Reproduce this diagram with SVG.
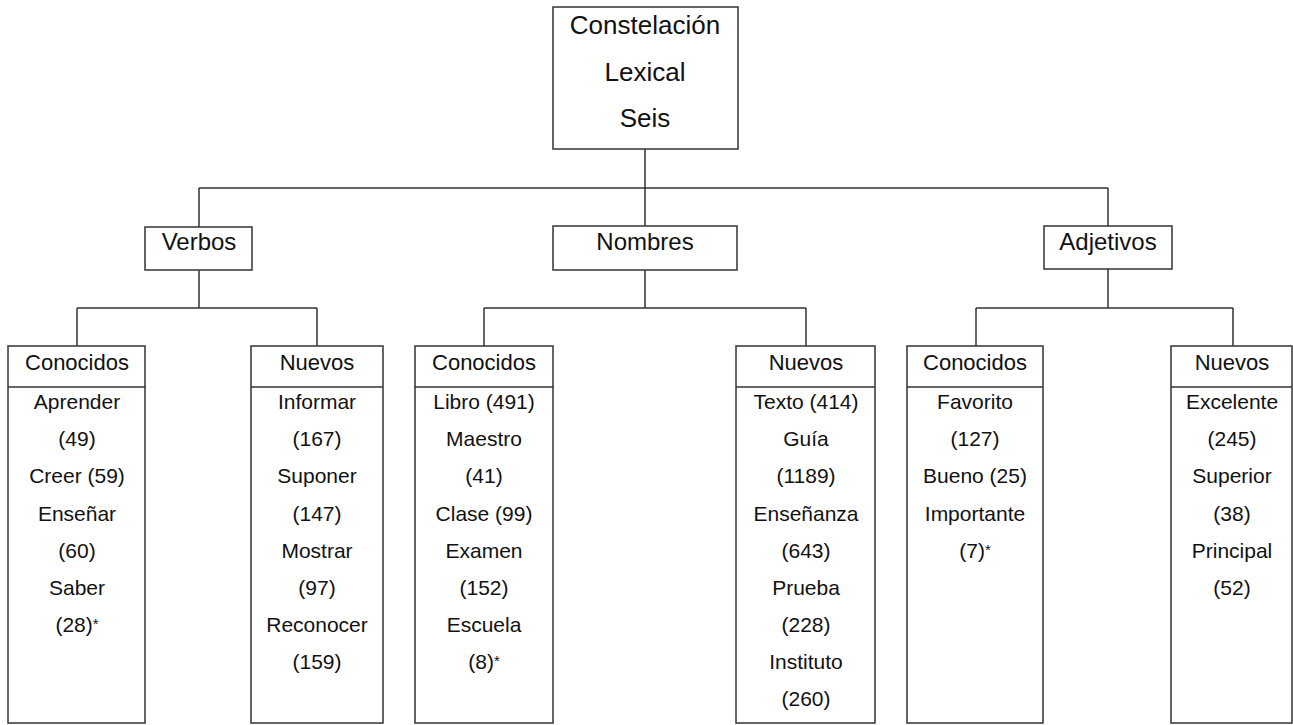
<svg xmlns="http://www.w3.org/2000/svg" width="1293" height="725" viewBox="0 0 1293 725">
  <style>
    .box { fill: #ffffff; stroke: #333333; stroke-width: 1.5; }
    .link { fill: none; stroke: #333333; stroke-width: 1.5; }
    text { font-family: "Liberation Sans", Arial, sans-serif; fill: #111111; text-anchor: middle; }
    .title { font-size: 26px; }
    .cat { font-size: 24px; }
    .head { font-size: 22px; }
    .item { font-size: 21px; }
    .star { font-size: 15px; }
  </style>
  <rect width="1293" height="725" fill="#ffffff"/>

  <!-- connectors -->
  <g id="connectors">
    <path class="link" d="M645 149 V188 M199 188 H1108 M199 188 V227 M645 188 V226 M1108 188 V226"/>
    <path class="link" d="M199 270 V308 M77 308 H317 M77 308 V346 M317 308 V346"/>
    <path class="link" d="M645 270 V308 M484 308 H806 M484 308 V346 M806 308 V346"/>
    <path class="link" d="M1108 269 V308 M976 308 H1233 M976 308 V346 M1233 308 V346"/>
  </g>

  <!-- root -->
  <g id="root">
    <rect class="box" x="553" y="7" width="185" height="142"/>
    <text class="title" x="645" y="34">Constelación</text>
    <text class="title" x="645" y="81">Lexical</text>
    <text class="title" x="645" y="127">Seis</text>
  </g>

  <!-- categories -->
  <g id="verbos">
    <rect class="box" x="145" y="227" width="107" height="43"/>
    <text class="cat" x="199" y="250">Verbos</text>
  </g>
  <g id="nombres">
    <rect class="box" x="553" y="226" width="184" height="44"/>
    <text class="cat" x="645" y="250">Nombres</text>
  </g>
  <g id="adjetivos">
    <rect class="box" x="1044" y="226" width="128" height="43"/>
    <text class="cat" x="1108" y="250">Adjetivos</text>
  </g>

  <!-- verbos: conocidos -->
  <g id="verbos-conocidos">
    <rect class="box" x="8" y="346" width="137" height="377"/>
    <line class="link" x1="8" y1="387" x2="145" y2="387"/>
    <text class="head" x="77" y="370">Conocidos</text>
    <text class="item" x="77" y="409">Aprender</text>
    <text class="item" x="77" y="446">(49)</text>
    <text class="item" x="77" y="483">Creer (59)</text>
    <text class="item" x="77" y="521">Enseñar</text>
    <text class="item" x="77" y="558">(60)</text>
    <text class="item" x="77" y="595">Saber</text>
    <text class="item" x="77" y="632">(28)<tspan class="star" dy="-3">*</tspan></text>
  </g>

  <!-- verbos: nuevos -->
  <g id="verbos-nuevos">
    <rect class="box" x="251" y="346" width="132" height="377"/>
    <line class="link" x1="251" y1="387" x2="383" y2="387"/>
    <text class="head" x="317" y="370">Nuevos</text>
    <text class="item" x="317" y="409">Informar</text>
    <text class="item" x="317" y="446">(167)</text>
    <text class="item" x="317" y="483">Suponer</text>
    <text class="item" x="317" y="521">(147)</text>
    <text class="item" x="317" y="558">Mostrar</text>
    <text class="item" x="317" y="595">(97)</text>
    <text class="item" x="317" y="632">Reconocer</text>
    <text class="item" x="317" y="669">(159)</text>
  </g>

  <!-- nombres: conocidos -->
  <g id="nombres-conocidos">
    <rect class="box" x="415" y="346" width="138" height="377"/>
    <line class="link" x1="415" y1="387" x2="553" y2="387"/>
    <text class="head" x="484" y="370">Conocidos</text>
    <text class="item" x="484" y="409">Libro (491)</text>
    <text class="item" x="484" y="446">Maestro</text>
    <text class="item" x="484" y="483">(41)</text>
    <text class="item" x="484" y="521">Clase (99)</text>
    <text class="item" x="484" y="558">Examen</text>
    <text class="item" x="484" y="595">(152)</text>
    <text class="item" x="484" y="632">Escuela</text>
    <text class="item" x="484" y="669">(8)<tspan class="star" dy="-3">*</tspan></text>
  </g>

  <!-- nombres: nuevos -->
  <g id="nombres-nuevos">
    <rect class="box" x="736" y="346" width="139" height="377"/>
    <line class="link" x1="736" y1="387" x2="875" y2="387"/>
    <text class="head" x="806" y="370">Nuevos</text>
    <text class="item" x="806" y="409">Texto (414)</text>
    <text class="item" x="806" y="446">Guía</text>
    <text class="item" x="806" y="483">(1189)</text>
    <text class="item" x="806" y="521">Enseñanza</text>
    <text class="item" x="806" y="558">(643)</text>
    <text class="item" x="806" y="595">Prueba</text>
    <text class="item" x="806" y="632">(228)</text>
    <text class="item" x="806" y="669">Instituto</text>
    <text class="item" x="806" y="706">(260)</text>
  </g>

  <!-- adjetivos: conocidos -->
  <g id="adjetivos-conocidos">
    <rect class="box" x="907" y="346" width="136" height="377"/>
    <line class="link" x1="907" y1="387" x2="1043" y2="387"/>
    <text class="head" x="975" y="370">Conocidos</text>
    <text class="item" x="975" y="409">Favorito</text>
    <text class="item" x="975" y="446">(127)</text>
    <text class="item" x="975" y="483">Bueno (25)</text>
    <text class="item" x="975" y="521">Importante</text>
    <text class="item" x="975" y="558">(7)<tspan class="star" dy="-3">*</tspan></text>
  </g>

  <!-- adjetivos: nuevos -->
  <g id="adjetivos-nuevos">
    <rect class="box" x="1171" y="346" width="121" height="377"/>
    <line class="link" x1="1171" y1="387" x2="1292" y2="387"/>
    <text class="head" x="1232" y="370">Nuevos</text>
    <text class="item" x="1232" y="409">Excelente</text>
    <text class="item" x="1232" y="446">(245)</text>
    <text class="item" x="1232" y="483">Superior</text>
    <text class="item" x="1232" y="521">(38)</text>
    <text class="item" x="1232" y="558">Principal</text>
    <text class="item" x="1232" y="595">(52)</text>
  </g>
</svg>
